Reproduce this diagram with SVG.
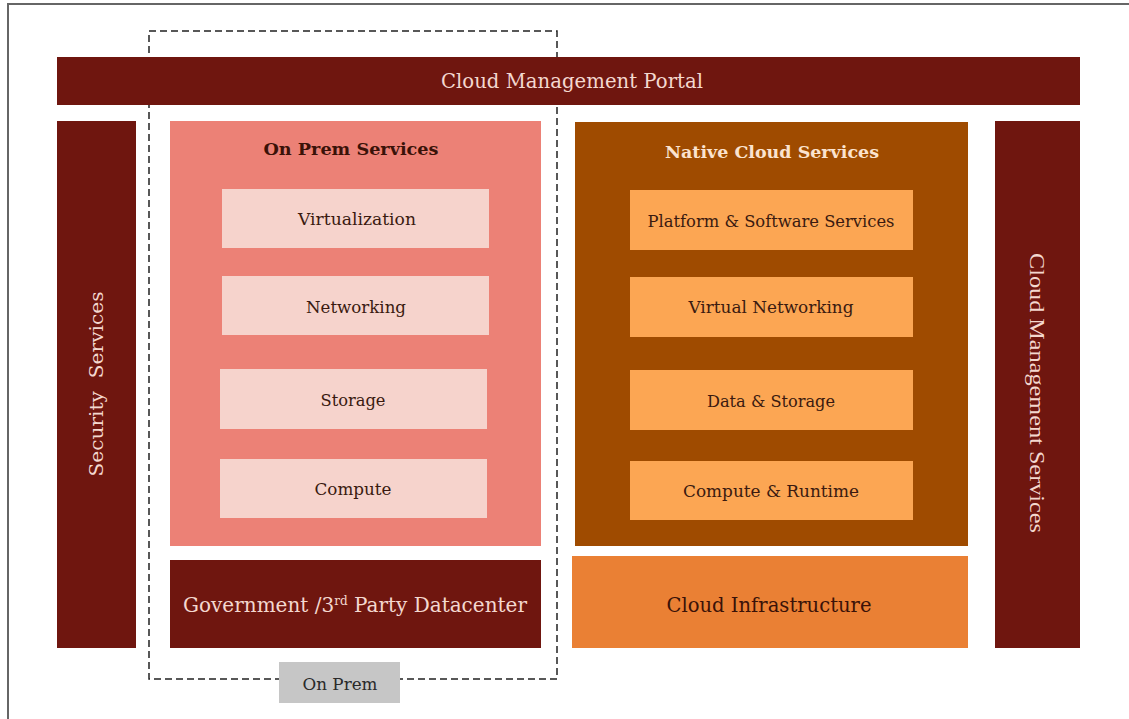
<svg xmlns="http://www.w3.org/2000/svg" width="1129" height="719" viewBox="0 0 1129 719">
<style>
.t{font-family:"DejaVu Serif","Liberation Serif",serif;text-anchor:middle}
.lt{fill:#f4d8cf}
.dk{fill:#3a1a10}
.dark{fill:#6f160f}
</style>
<rect x="0" y="0" width="1129" height="719" fill="#ffffff"/>
<rect x="8" y="4" width="1130" height="730" fill="none" stroke="#666" stroke-width="2"/>
<g id="onprem-boundary">
<rect x="149" y="31" width="408" height="648" fill="none" stroke="#222" stroke-width="1.5" stroke-dasharray="7,4"/>
</g>
<g id="portal">
<rect class="dark" x="57" y="57" width="1023" height="48"/>
<text class="t lt" x="572" y="88" font-size="20" textLength="262" lengthAdjust="spacingAndGlyphs">Cloud Management Portal</text>
</g>
<g id="security">
<rect class="dark" x="57" y="121" width="79" height="527"/>
<text class="t lt" transform="translate(103,384) rotate(-90)" x="0" y="0" font-size="19" textLength="185" lengthAdjust="spacingAndGlyphs" xml:space="preserve">Security  Services</text>
</g>
<g id="mgmt-services">
<rect class="dark" x="995" y="121" width="85" height="527"/>
<text transform="translate(1030,393) rotate(90)" x="0" y="0" font-family="Liberation Serif, serif" text-anchor="middle" fill="#f4d8cf" font-size="21" textLength="280" lengthAdjust="spacingAndGlyphs">Cloud Management Services</text>
</g>
<g id="onprem-services">
<rect x="170" y="121" width="371" height="425" fill="#ec8176"/>
<text class="t" x="351" y="155" font-size="16" font-weight="bold" fill="#3a1208" textLength="175" lengthAdjust="spacingAndGlyphs">On Prem Services</text>
</g>
<g id="virtualization">
<rect x="222" y="189" width="267" height="59" fill="#f6d3cc"/>
<text class="t dk" x="357" y="225" font-size="16" textLength="118" lengthAdjust="spacingAndGlyphs">Virtualization</text>
</g>
<g id="networking">
<rect x="222" y="276" width="267" height="59" fill="#f6d3cc"/>
<text class="t dk" x="356" y="313" font-size="16" textLength="100" lengthAdjust="spacingAndGlyphs">Networking</text>
</g>
<g id="storage">
<rect x="220" y="369" width="267" height="60" fill="#f6d3cc"/>
<text class="t dk" x="353" y="406" font-size="16" textLength="65" lengthAdjust="spacingAndGlyphs">Storage</text>
</g>
<g id="compute">
<rect x="220" y="459" width="267" height="59" fill="#f6d3cc"/>
<text class="t dk" x="353" y="495" font-size="16" textLength="77" lengthAdjust="spacingAndGlyphs">Compute</text>
</g>
<g id="datacenter">
<rect class="dark" x="170" y="560" width="371" height="88"/>
<text class="t lt" x="355" y="612" font-size="20">Government /3<tspan font-size="12" baseline-shift="super">rd</tspan> Party Datacenter</text>
</g>
<g id="onprem-label">
<rect x="279" y="662" width="121" height="41" fill="#c6c6c6"/>
<text class="t" x="340" y="690" font-size="17" fill="#2a2a2a" textLength="75" lengthAdjust="spacingAndGlyphs">On Prem</text>
</g>
<g id="native-cloud">
<rect x="575" y="122" width="393" height="424" fill="#9f4b00"/>
<text class="t" x="772" y="158" font-size="16" font-weight="bold" fill="#fbe3cf" textLength="214" lengthAdjust="spacingAndGlyphs">Native Cloud Services</text>
</g>
<g id="platform">
<rect x="630" y="190" width="283" height="60" fill="#fca653"/>
<text class="t dk" x="771" y="227" font-size="16" textLength="247" lengthAdjust="spacingAndGlyphs">Platform &amp; Software Services</text>
</g>
<g id="virtual-networking">
<rect x="630" y="277" width="283" height="60" fill="#fca653"/>
<text class="t dk" x="771" y="313" font-size="16" textLength="165" lengthAdjust="spacingAndGlyphs">Virtual Networking</text>
</g>
<g id="data-storage">
<rect x="630" y="370" width="283" height="60" fill="#fca653"/>
<text class="t dk" x="771" y="407" font-size="16" textLength="128" lengthAdjust="spacingAndGlyphs">Data &amp; Storage</text>
</g>
<g id="compute-runtime">
<rect x="630" y="461" width="283" height="59" fill="#fca653"/>
<text class="t dk" x="771" y="497" font-size="16" textLength="176" lengthAdjust="spacingAndGlyphs">Compute &amp; Runtime</text>
</g>
<g id="cloud-infra">
<rect x="572" y="556" width="396" height="92" fill="#ea8034"/>
<text class="t" x="769" y="612" font-size="21" fill="#3a1208" textLength="205" lengthAdjust="spacingAndGlyphs">Cloud Infrastructure</text>
</g>
<g id="connectors"></g>
</svg>
